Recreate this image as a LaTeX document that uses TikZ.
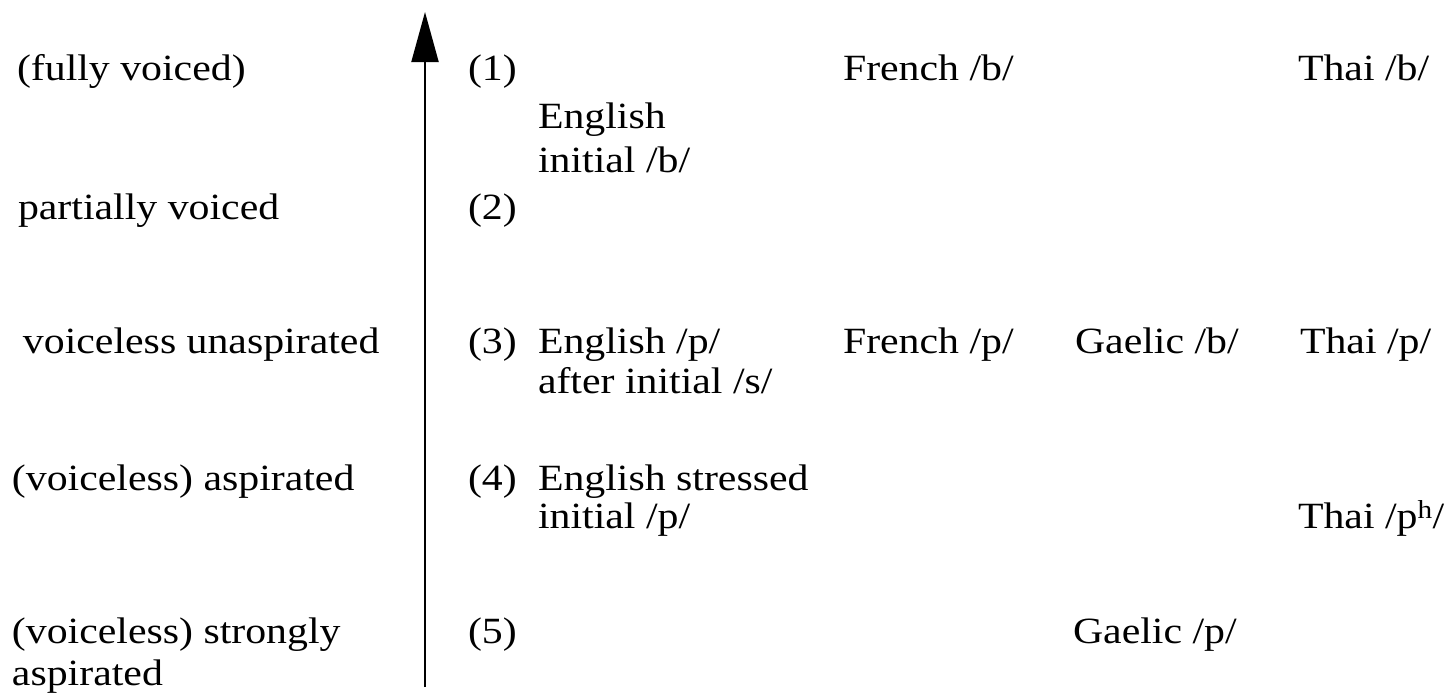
\documentclass[tikz,border=0pt]{standalone}
\usepackage{fontspec}
\setmainfont{Liberation Serif}[FakeStretch=1.13]
\usetikzlibrary{arrows.meta}
\begin{document}
\begin{tikzpicture}[x=1pt,y=-1pt,
  lbl/.style={anchor=base west,inner sep=0pt,outer sep=0pt,font=\fontsize{37}{42}\selectfont},
  axis/.style={line width=2pt,-{Triangle[length=50pt,width=27pt]}}]
\useasboundingbox (0,0) rectangle (1451,696);
% axis
\coordinate (abot) at (425,687);
\coordinate (atop) at (425,12);
\draw[axis] (abot) -- (atop);
% left labels
\node[lbl] (l1) at (17,80) {(fully voiced)};
\node[lbl] (l2) at (18,219) {partially voiced};
\node[lbl] (l3) at (23,353) {voiceless unaspirated};
\node[lbl] (l4) at (12,490) {(voiceless) aspirated};
\node[lbl] (l5a) at (12,643) {(voiceless) strongly};
\node[lbl] (l5b) at (12,685) {aspirated};
% numbers
\node[lbl] (n1) at (468,80) {(1)};
\node[lbl] (n2) at (468,219) {(2)};
\node[lbl] (n3) at (468,353) {(3)};
\node[lbl] (n4) at (468,490) {(4)};
\node[lbl] (n5) at (468,643) {(5)};
% English
\node[lbl] (e1a) at (538,128) {English};
\node[lbl] (e1b) at (538,172) {initial /b/};
\node[lbl] (e3a) at (538,353) {English /p/};
\node[lbl] (e3b) at (538,393) {after initial /s/};
\node[lbl] (e4a) at (538,490) {English stressed};
\node[lbl] (e4b) at (538,528) {initial /p/};
% French
\node[lbl] (f1) at (843,80) {French /b/};
\node[lbl] (f3) at (843,353) {French /p/};
% Gaelic
\node[lbl] (g3) at (1075,353) {Gaelic /b/};
\node[lbl] (g5) at (1073,643) {Gaelic /p/};
% Thai
\node[lbl] (t1) at (1298,80) {Thai /b/};
\node[lbl] (t3) at (1300,353) {Thai /p/};
\node[lbl] (t4) at (1298,528) {Thai /p\textsuperscript{h}/};
\end{tikzpicture}
\end{document}
